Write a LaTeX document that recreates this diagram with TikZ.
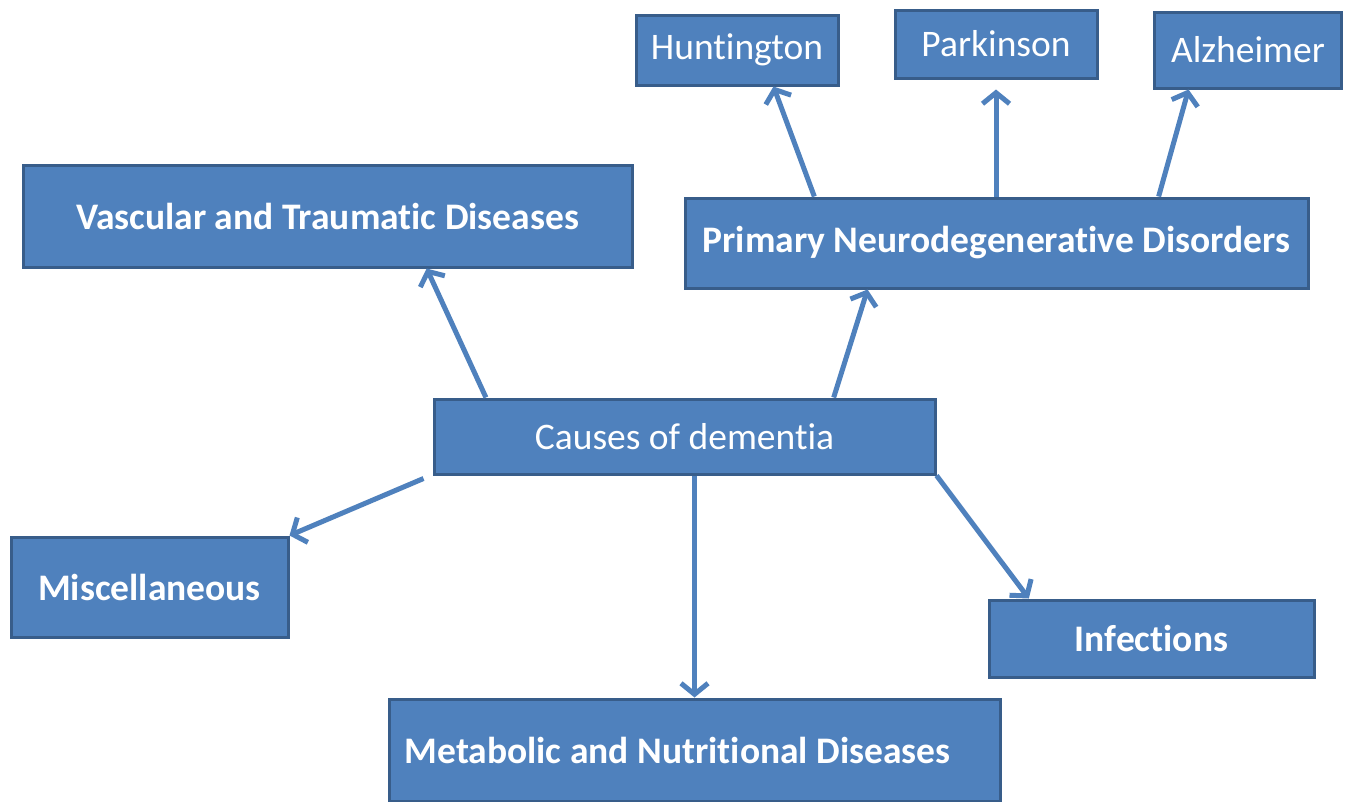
\documentclass[tikz,border=0pt]{standalone}
\usepackage{fontspec}
\setmainfont{Carlito}[Ligatures=NoCommon]
\usetikzlibrary{calc,arrows.meta}
\definecolor{boxblue}{HTML}{4F81BD}
\definecolor{boxedge}{HTML}{385D8A}

\begin{document}
\begin{tikzpicture}[x=1pt,y=-1pt,
  box/.style={draw=boxedge,line width=3pt,fill=boxblue,text=white,
    font=\fontsize{37.5}{42}\selectfont,inner sep=0pt},
  bbox/.style={box,font=\fontsize{37.5}{42}\selectfont\bfseries},
  link/.style={draw=boxblue,line width=5pt,
    -{Straight Barb[length=11pt,width=27pt]}}]
\useasboundingbox[fill=white] (0,0) rectangle (1346,801);
% disorder names on top
\node[box,minimum width=202pt,minimum height=70pt] (hunt) at (737,50) {Huntington};
\node[box,minimum width=202pt,minimum height=68pt] (park) at (996,44) {Parkinson};
\node[box,minimum width=187pt,minimum height=76pt] (alz) at (1248,50) {Alzheimer};
% main groups
\node[bbox,minimum width=623pt,minimum height=90pt] (prim) at (996.5,243) {Primary Neurodegenerative Disorders};
\node[bbox,minimum width=609pt,minimum height=102pt] (vasc) at (327.5,216) {Vascular and Traumatic Diseases};
\node[box,minimum width=501pt,minimum height=75pt] (causes) at (684.5,436.5) {Causes of dementia};
\node[bbox,minimum width=277pt,minimum height=100pt] (misc) at (149.5,587) {Miscellaneous};
\node[bbox,minimum width=325pt,minimum height=77pt] (inf) at (1151.5,638.5) {Infections};
\node[bbox,minimum width=611pt,minimum height=102pt] (metab) at (694.5,750) {Metabolic and Nutritional Diseases\hspace*{34pt}};
% arrows out of the centre box
\draw[link] ($(causes.north west)!.106!(causes.north east)$) -- ($(vasc.south west)!.662!(vasc.south east)$);
\draw[link] ($(causes.north west)!.796!(causes.north east)$) -- ($(prim.south west)!.294!(prim.south east)$);
\draw[link] ($(causes.south west)+(-9,3)$) -- (misc.north east);
\draw[link] (causes.south -| metab.north) -- (metab.north);
\draw[link] (causes.south east) -- ($(inf.north west)!.126!(inf.north east)$);
% arrows to the disorders
\draw[link] ($(prim.north west)!.209!(prim.north east)$) -- ($(hunt.south west)!.678!(hunt.south east)$);
\draw[link,shorten >=10pt] (prim.north -| park.south) -- (park.south);
\draw[link] ($(prim.north west)!.759!(prim.north east)$) -- ($(alz.south west)!.187!(alz.south east)$);
\end{tikzpicture}
\end{document}
